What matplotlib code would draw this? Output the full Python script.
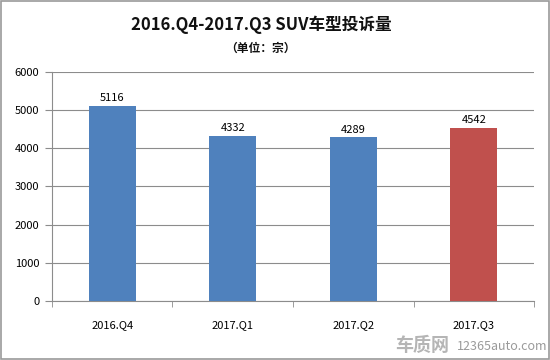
import matplotlib
matplotlib.use("Agg")
import matplotlib.pyplot as plt
from matplotlib.patches import Rectangle

plt.rcParams['font.family'] = ['Noto Sans CJK SC', 'DejaVu Sans']

categories = ["2016.Q4", "2017.Q1", "2017.Q2", "2017.Q3"]
values = [5116, 4332, 4289, 4542]
colors = ["#4F81BD", "#4F81BD", "#4F81BD", "#C0504D"]
yticks = [0, 1000, 2000, 3000, 4000, 5000, 6000]

fig = plt.figure(figsize=(5.5, 3.6), dpi=100)
fig.patch.set_facecolor("white")
fig.add_artist(Rectangle((0.002, 0.003), 0.996, 0.994, transform=fig.transFigure,
                         fill=False, edgecolor="#9a9a9a", linewidth=1.2))

ax = fig.add_axes([0.0945, 0.164, 0.8765, 0.636])
x = list(range(len(categories)))
ax.bar(x, values, width=0.39, color=colors, zorder=3)
for xi, v in zip(x, values):
    ax.text(xi, v + 60, str(v), ha="center", va="bottom", fontsize=8, color="#000000")

ax.set_xlim(-0.5, len(categories) - 0.5)
ax.set_ylim(0, 6000)
ax.set_yticks(yticks)
ax.set_yticklabels([str(t) for t in yticks], fontsize=8)
ax.yaxis.grid(True, color="#8c8c8c", linewidth=0.8, zorder=0)
ax.set_xticks(x)
ax.set_xticklabels(categories, fontsize=8)
ax.set_xticks([i + 0.5 for i in range(-1, len(categories))], minor=True)
ax.tick_params(axis="x", which="major", length=0, pad=14)
ax.tick_params(axis="x", which="minor", length=4, color="#8c8c8c", direction="out")
ax.tick_params(axis="y", length=5, color="#8c8c8c", direction="out", pad=4)
for s in ["top", "right"]:
    ax.spines[s].set_visible(False)
for s in ["left", "bottom"]:
    ax.spines[s].set_color("#8c8c8c")
    ax.spines[s].set_linewidth(0.8)

fig.text(0.475, 0.932, "2016.Q4-2017.Q3 SUV车型投诉量", ha="center", va="center",
         fontsize=12, fontweight="bold", color="#111111")
fig.text(0.473, 0.867, "（单位：宗）", ha="center", va="center",
         fontsize=8.5, fontweight="bold", color="#111111")

# watermark
fig.text(0.718, 0.04, "车质网", ha="left", va="center", fontsize=13,
         fontweight="bold", color="#b5b5b5")
fig.text(0.83, 0.037, "12365auto.com", ha="left", va="center", fontsize=9,
         color="#9a9a9a")

fig.savefig("out.png", dpi=100)
